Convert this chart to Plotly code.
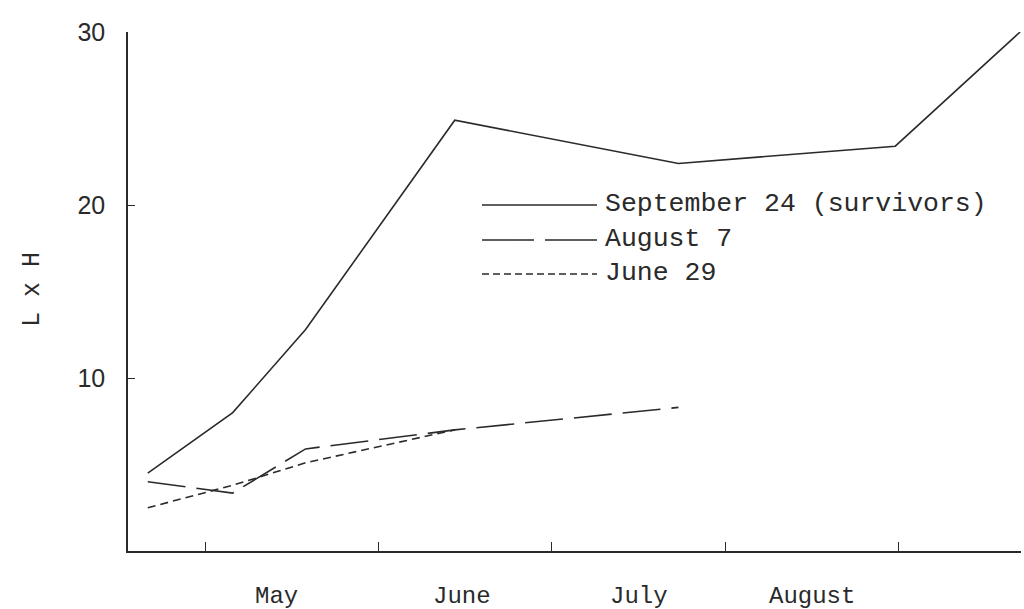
import plotly.graph_objects as go

# Sampling dates expressed as fractional month numbers (5 = 1 May, 6 = 1 June, ...)
dates = [4.67, 5.16, 5.58, 6.44, 7.73, 8.98, 9.70]

sept24 = [4.5, 8.0, 12.8, 24.9, 22.4, 23.4, 30.0]
aug7 = [4.0, 3.35, 5.9, 7.0, 8.3]
june29 = [2.5, 3.8, 5.1, 7.0]

series_names = ["September 24 (survivors)", "August 7", "June 29"]
month_labels = ["May", "June", "July", "August"]
month_label_pos = [5.41, 6.48, 7.50, 8.50]
month_ticks = [5, 6, 7, 8, 9]
y_ticks = [10, 20, 30]

INK = "#2a2a2a"
MONO = "Liberation Mono, DejaVu Sans Mono, monospace"
SANS = "Liberation Sans, Arial, sans-serif"

dashes = ["solid", "38px,11px", "8px,5px"]
key_dashes = ["solid", "52px,11px", "7px,4px"]
values = [sept24, aug7, june29]

fig = go.Figure()
for name, vals, dash in zip(series_names, values, dashes):
    fig.add_trace(go.Scatter(
        x=dates[:len(vals)], y=vals, mode="lines", name=name,
        line=dict(color=INK, width=1.6, dash=dash),
        showlegend=False, hoverinfo="skip",
    ))

X0, X1 = 4.556, 9.705
fig.update_layout(
    width=1024, height=609,
    margin=dict(l=128, r=3, t=32, b=58),
    paper_bgcolor="white", plot_bgcolor="white",
    xaxis=dict(
        range=[X0, X1], tickvals=month_ticks, ticktext=["" for _ in month_ticks],
        ticks="inside", ticklen=9, tickwidth=1.3, tickcolor=INK,
        showline=True, linecolor=INK, linewidth=1.5,
        showgrid=False, zeroline=False,
    ),
    yaxis=dict(
        range=[0, 30], tickvals=y_ticks, ticktext=[str(v) for v in y_ticks],
        ticks="inside", ticklen=7, tickwidth=1.3, tickcolor=INK,
        showline=True, linecolor=INK, linewidth=1.5,
        showgrid=False, zeroline=False,
        tickfont=dict(family=SANS, size=25, color=INK),
        ticklabelstandoff=16,
    ),
)

# month labels below the axis
for lab, pos in zip(month_labels, month_label_pos):
    fig.add_annotation(x=pos, y=0, xref="x", yref="paper", text=lab,
                       showarrow=False, yshift=-45, yanchor="middle",
                       font=dict(family=MONO, size=24, color=INK))

# y-axis title
fig.add_annotation(x=0, y=(551 - 290) / 519, xref="paper", yref="paper",
                   text="L x H", textangle=-90, showarrow=False,
                   xshift=-96, xanchor="center", yanchor="middle",
                   font=dict(family=MONO, size=25, color=INK))

# hand-drawn style key inside the plot
def px_x(p):
    return (p - 128) / (1021 - 128)

def px_y(p):
    return (551 - p) / 519

key_rows = [205, 240, 274]
for name, dash, row in zip(series_names, key_dashes, key_rows):
    fig.add_shape(type="line", xref="paper", yref="paper",
                  x0=px_x(482), x1=px_x(597), y0=px_y(row), y1=px_y(row),
                  line=dict(color=INK, width=1.4, dash=dash))
    fig.add_annotation(x=px_x(603), y=px_y(row - 1), xref="paper", yref="paper",
                       text=name, showarrow=False, xanchor="left", yanchor="middle",
                       font=dict(family=MONO, size=26.5, color=INK))

fig.write_html("out.html", config={"displayModeBar": False},
               post_script="document.body.style.margin='0';document.body.style.overflow='hidden';")
